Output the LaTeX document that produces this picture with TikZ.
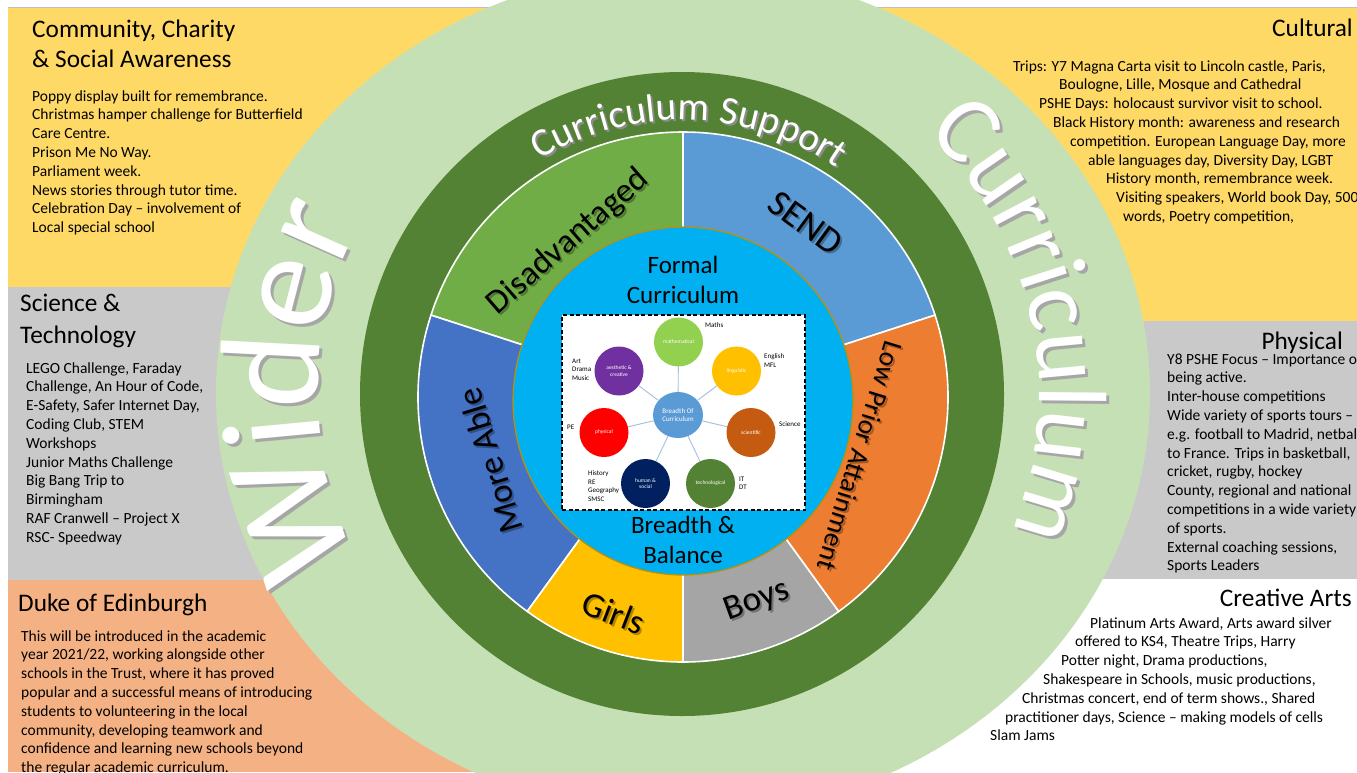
\documentclass[tikz,border=0pt]{standalone}
\usepackage{fontspec}
\setmainfont{Carlito}
\usetikzlibrary{shapes.geometric,decorations.text}
\definecolor{pyellow}{HTML}{FFD966}
\definecolor{pgray}{HTML}{C9C9C9}
\definecolor{porange}{HTML}{F4B183}
\definecolor{lgreen}{HTML}{C5E0B4}
\definecolor{dgreen}{HTML}{548235}
\definecolor{sgreen}{HTML}{70AD47}
\definecolor{sblue}{HTML}{5B9BD5}
\definecolor{sorange}{HTML}{ED7D31}
\definecolor{sgray}{HTML}{A5A5A5}
\definecolor{sgold}{HTML}{FFC000}
\definecolor{sroyal}{HTML}{4472C4}
\definecolor{cyanb}{HTML}{00B0F0}
\definecolor{goldline}{HTML}{BF9000}
\definecolor{cmath}{HTML}{92D050}
\definecolor{cling}{HTML}{FFC000}
\definecolor{csci}{HTML}{C55A11}
\definecolor{ctech}{HTML}{548235}
\definecolor{chum}{HTML}{002060}
\definecolor{cphys}{HTML}{FF0000}
\definecolor{caes}{HTML}{7030A0}
\definecolor{spoke}{HTML}{A3BFE0}
\newcommand\pfbody{\fontsize{15.5}{18.8}\selectfont}
\newcommand\pfhead{\fontsize{25.3}{31}\selectfont}
\newcommand\pfwider{\fontsize{142}{142}\selectfont}
\newcommand\pfcurr{\fontsize{97}{97}\selectfont}
\newcommand\pfsupp{\fontsize{39.5}{39.5}\selectfont}
\begin{document}
\begin{tikzpicture}[x=1pt,y=1pt,
  body/.style={font=\pfbody, inner sep=0, anchor=base west, text=black},
  head/.style={font=\pfhead, inner sep=0, text=black},
  seg/.style={draw=white, line width=1.6},
  seglabel/.style={inner sep=0, text=black},
  segshadow/.style={inner sep=0, text=black, opacity=0.3},
  bub/.style={circle, minimum size=49, inner sep=0, text=white, font=\fontsize{5.5}{6.5}\selectfont, align=center},
  lab/.style={font=\fontsize{7}{8.5}\selectfont, inner sep=0, anchor=north west, align=left},
  spk/.style={draw=spoke, line width=0.9},
  mid/.style={font=\fontsize{25}{30}\selectfont, inner sep=0, anchor=base, text=black}
]
\useasboundingbox (0,0) rectangle (1357,-772);
\clip (0,0) rectangle (1357,-772);
\fill[white] (0,0) rectangle (1357,-772);
% panels
\fill[pyellow] (8,-7) rectangle (683,-287);
\fill[pgray] (8,-287) rectangle (683,-580);
\fill[porange] (8,-580) rectangle (683,-772);
\fill[pyellow] (683,-7) rectangle (1357,-321);
\fill[pgray] (683,-321) rectangle (1357,-579);
\draw[black!25, line width=1] (8,-7) -- (1357,-7);
% big light green ellipse
\fill[lgreen] (683,-393) ellipse[x radius=467, y radius=424];
% panel texts
\node[head, anchor=base west] (h1a) at (32,-37) {Community, Charity};
\node[head, anchor=base west] (h1b) at (32,-67) {\& Social Awareness};
\foreach \t [count=\i from 0] in {{Poppy display built for remembrance.},{Christmas hamper challenge for Butterfield},{Care Centre.},{Prison Me No Way.},{Parliament week.},{News stories through tutor time.},{Celebration Day – involvement of},{Local special school}}
  \node[body] (tl\i) at (32,-101-18.8*\i) {\t};
\node[head, anchor=base east] (h2) at (1353,-36) {Cultural};
\foreach \x/\t [count=\i from 0] in {{1013/Trips: Y7 Magna Carta visit to Lincoln castle, Paris,},{1059/Boulogne, Lille, Mosque and Cathedral},{1039/PSHE Days: holocaust survivor visit to school.},{1053/Black History month: awareness and research},{1070/competition. European Language Day, more},{1088/able languages day, Diversity Day, LGBT},{1106/History month, remembrance week.},{1116/Visiting speakers, World book Day, 500},{1123/words, Poetry competition,}}
  \node[body] (cu\i) at (\x,-71-18.8*\i) {\t};
\node[head, anchor=base west] (h3a) at (20,-311) {Science \&};
\node[head, anchor=base west] (h3b) at (20,-343) {Technology};
\foreach \t [count=\i from 0] in {{LEGO Challenge, Faraday},{Challenge, An Hour of Code,},{E-Safety, Safer Internet Day,},{Coding Club, STEM},{Workshops},{Junior Maths Challenge},{Big Bang Trip to},{Birmingham},{RAF Cranwell – Project X},{RSC- Speedway}}
  \node[body] (sc\i) at (26,-373-18.8*\i) {\t};
\node[head, anchor=base east] (h4) at (1343,-349) {Physical};
\foreach \t [count=\i from 0] in {{Y8 PSHE Focus – Importance of},{being active.},{Inter-house competitions},{Wide variety of sports tours –},{e.g. football to Madrid, netball},{to France. Trips in basketball,},{cricket, rugby, hockey},{County, regional and national},{competitions in a wide variety},{of sports.},{External coaching sessions,},{Sports Leaders}}
  \node[body] (ph\i) at (1167,-364-18.8*\i) {\t};
\node[head, anchor=base west] (h5) at (18,-611) {Duke of Edinburgh};
\foreach \t [count=\i from 0] in {{This will be introduced in the academic},{year 2021/22, working alongside other},{schools in the Trust, where it has proved},{popular and a successful means of introducing},{students to volunteering in the local},{community, developing teamwork and},{confidence and learning new schools beyond},{the regular academic curriculum.}}
  \node[body] (dk\i) at (21,-641-18.8*\i) {\t};
\node[head, anchor=base east] (h6) at (1352,-606) {Creative Arts};
\foreach \x/\t [count=\i from 0] in {{1090/Platinum Arts Award, Arts award silver},{1075/offered to KS4, Theatre Trips, Harry},{1061/Potter night, Drama productions,},{1043/Shakespeare in Schools, music productions,},{1022/Christmas concert, end of term shows., Shared},{1005/practitioner days, Science – making models of cells},{990/Slam Jams}}
  \node[body] (ca\i) at (\x,-628-18.8*\i) {\t};
% big curved words
\path[shift={(686,-396)}, decorate, decoration={text along path, text align=center, text={|\pfwider\color{black!35}|Wider}}] (239:365) arc[start angle=239, end angle=121, radius=365];
\path[shift={(683,-393)}, decorate, decoration={text along path, text align=center, text={|\pfwider\color{white}|Wider}}] (239:365) arc[start angle=239, end angle=121, radius=365];
\path[shift={(686,-396)}, decorate, decoration={text along path, text align=center, text={|\pfcurr\color{black!35}|Curriculum}}] (65:356) arc[start angle=65, end angle=-41, radius=356];
\path[shift={(683,-393)}, decorate, decoration={text along path, text align=center, text={|\pfcurr\color{white}|Curriculum}}] (65:356) arc[start angle=65, end angle=-41, radius=356];
% dark green ring
\fill[dgreen] (682,-394) circle[radius=322];
\path[shift={(684,-396)}, decorate, decoration={text along path, text align=center, text={|\pfsupp\color{black!45}|Curriculum Support}}] (150:274) arc[start angle=150, end angle=27, radius=274];
\path[shift={(682,-394)}, decorate, decoration={text along path, text align=center, text={|\pfsupp\color{white}|Curriculum Support}}] (150:274) arc[start angle=150, end angle=27, radius=274];
% segments
\begin{scope}[shift={(683,-397)}]
\filldraw[seg, fill=sblue] (0,0) -- (18:265) arc[start angle=18, end angle=90, radius=265] -- cycle;
\filldraw[seg, fill=sgreen] (0,0) -- (90:265) arc[start angle=90, end angle=162, radius=265] -- cycle;
\filldraw[seg, fill=sroyal] (0,0) -- (162:265) arc[start angle=162, end angle=234, radius=265] -- cycle;
\filldraw[seg, fill=sgold] (0,0) -- (234:265) arc[start angle=234, end angle=270, radius=265] -- cycle;
\filldraw[seg, fill=sgray] (0,0) -- (270:265) arc[start angle=270, end angle=306, radius=265] -- cycle;
\filldraw[seg, fill=sorange] (0,0) -- (306:265) arc[start angle=306, end angle=378, radius=265] -- cycle;
\end{scope}
% segment labels
\node[segshadow, rotate=41, font=\fontsize{34}{34}\selectfont] (disS) at (570,-244) {Disadvantaged};
\node[seglabel, rotate=41, font=\fontsize{34}{34}\selectfont] (dis) at (568,-242) {Disadvantaged};
\node[segshadow, rotate=-36, font=\fontsize{37}{37}\selectfont] (sendS) at (808,-225) {SEND};
\node[seglabel, rotate=-36, font=\fontsize{37}{37}\selectfont] (send) at (806,-223) {SEND};
\node[segshadow, rotate=107, font=\fontsize{35}{35}\selectfont] (moreS) at (492,-463) {More Able};
\node[seglabel, rotate=107, font=\fontsize{35}{35}\selectfont] (more) at (490,-461) {More Able};
\node[segshadow, rotate=-107, font=\fontsize{27.5}{27.5}\selectfont] (lowS) at (862,-458) {Low Prior Attainment};
\node[seglabel, rotate=-107, font=\fontsize{27.5}{27.5}\selectfont] (low) at (860,-456) {Low Prior Attainment};
\node[segshadow, rotate=-21, font=\fontsize{35}{35}\selectfont] (girlsS) at (616,-615) {Girls};
\node[seglabel, rotate=-21, font=\fontsize{35}{35}\selectfont] (girls) at (614,-613) {Girls};
\node[segshadow, rotate=20, font=\fontsize{35}{35}\selectfont] (boysS) at (759,-603) {Boys};
\node[seglabel, rotate=20, font=\fontsize{35}{35}\selectfont] (boys) at (757,-601) {Boys};
% inner blue circle
\filldraw[fill=cyanb, draw=goldline, line width=1.2] (683,-401) ellipse[x radius=170, y radius=174];
\node[mid] (f1) at (683,-273) {Formal};
\node[mid] (f2) at (683,-303) {Curriculum};
\node[mid] (b1) at (683,-533) {Breadth \&};
\node[mid] (b2) at (683,-563) {Balance};
% inner picture
\node[draw=black, dash pattern=on 4pt off 2.5pt, line width=1.6, fill=white, minimum width=243, minimum height=195, inner sep=0] (box) at (683.5,-412.5) {};
\node[bub, fill=cmath] (mat) at (678.5,-342) {mathematical};
\node[bub, fill=cling] (lin) at (736.5,-371) {linguistic};
\node[bub, fill=csci] (sci) at (751,-432.5) {scientific};
\node[bub, fill=ctech] (tec) at (710.5,-483.5) {technological};
\node[bub, fill=chum] (hum) at (645.5,-483.5) {human \&\\social};
\node[bub, fill=cphys] (phy) at (604,-432.5) {physical};
\node[bub, fill=caes] (aes) at (619,-371) {aesthetic \&\\creative};
\node[ellipse, fill=sblue, minimum width=50, minimum height=46, inner sep=0, text=white, font=\fontsize{7}{8}\selectfont, align=center] (boc) at (678,-415) {Breadth Of\\Curriculum};
\foreach \n in {mat,lin,sci,tec,hum,phy,aes} \draw[spk] (boc) -- (\n);
\node[lab] (lmaths) at (705,-322.5) {Maths};
\node[lab] (leng) at (764,-353.5) {English\\MFL};
\node[lab] (lsci) at (779,-421.5) {Science};
\node[lab] (lit) at (739,-476.5) {IT\\DT};
\node[lab] (lhis) at (588,-470.5) {History\\RE\\Geography\\SMSC};
\node[lab] (lpe) at (567,-424.5) {PE};
\node[lab] (lart) at (572,-358.5) {Art\\Drama\\Music};
\end{tikzpicture}
\end{document}
